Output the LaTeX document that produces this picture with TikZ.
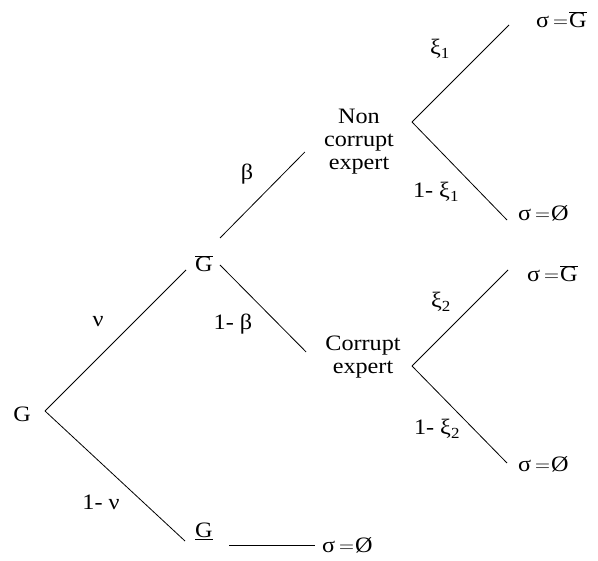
\documentclass[tikz,border=0pt]{standalone}
\usepackage{fontspec}
\setmainfont[FakeStretch=1.1]{Liberation Serif}
\usetikzlibrary{positioning}
\newcommand{\Gbar}{$\overline{\mbox{G}}$}
\newcommand{\sig}[1]{σ\hspace{4pt}$=$\hspace{1pt}#1}
\tikzset{branch/.style={line width=0.8pt},
  txt/.style={inner sep=0pt, font=\fontsize{22}{23}\selectfont},
  prob/.style={txt, anchor=base}}

\begin{document}
\begin{tikzpicture}[x=1pt, y=-1pt]
\useasboundingbox (0,0) rectangle (598,561);
% states
\node[txt, anchor=base] (g) at (22,422) {G};
\node[txt, anchor=base west] (gbar) at (195,272) {\Gbar};
\node[txt, anchor=base west] (gund) at (195,538) {\underline{G}};
\node[txt, align=center] (nc) at (359,142) {Non\\corrupt\\expert};
\node[txt, align=center] (ce) at (363,357) {Corrupt\\expert};
\node[txt, anchor=base west] (s1) at (536,28) {\sig{\Gbar}};
\node[txt, anchor=base west] (s2) at (518,221) {\sig{Ø}};
\node[txt, anchor=base west] (s3) at (527,282) {\sig{\Gbar}};
\node[txt, anchor=base west] (s4) at (518,472) {\sig{Ø}};
\node[txt, anchor=base west] (s5) at (322,553) {\sig{Ø}};
% forks
\coordinate (gfork) at ([xshift=23pt,yshift=11pt]g.base);
\coordinate (ncfork) at ([xshift=53pt,yshift=20pt]nc.center);
\coordinate (cefork) at ([xshift=49pt,yshift=-9pt]ce.center);
% branches
\draw[branch] (gfork) -- ([xshift=-9pt,yshift=2pt]gbar.base west);
\draw[branch] (gfork) -- ([xshift=-10pt,yshift=-3pt]gund.base west);
\draw[branch] ([xshift=25pt,yshift=34pt]gbar.base west) -- ([xshift=-19pt,yshift=-10pt]nc.west);
\draw[branch] ([xshift=25pt,yshift=7pt]gbar.base west) -- ([xshift=-19pt,yshift=5pt]ce.west);
\draw[branch] (ncfork) -- ([xshift=-27pt,yshift=3pt]s1.base west);
\draw[branch] (ncfork) -- ([xshift=-11pt,yshift=1pt]s2.base west);
\draw[branch] (cefork) -- ([xshift=-19pt,yshift=12pt]s3.base west);
\draw[branch] (cefork) -- ([xshift=-11pt,yshift=9pt]s4.base west);
\draw[branch] ([xshift=34pt,yshift=-7pt]gund.base west) -- ([xshift=-7pt,yshift=8pt]s5.base west);
% probabilities
\node[prob] (nu) at (98,327) {ν};
\node[prob] (nnu) at (101,510) {1- ν};
\node[prob] (be) at (247,180) {β};
\node[prob] (nbe) at (233,330) {1- β};
\node[prob] (xa) at (440,55) {ξ\textsubscript{1}};
\node[prob] (nxa) at (436,198) {1- ξ\textsubscript{1}};
\node[prob] (xb) at (441,308) {ξ\textsubscript{2}};
\node[prob] (nxb) at (437,435) {1- ξ\textsubscript{2}};
\end{tikzpicture}
\end{document}
